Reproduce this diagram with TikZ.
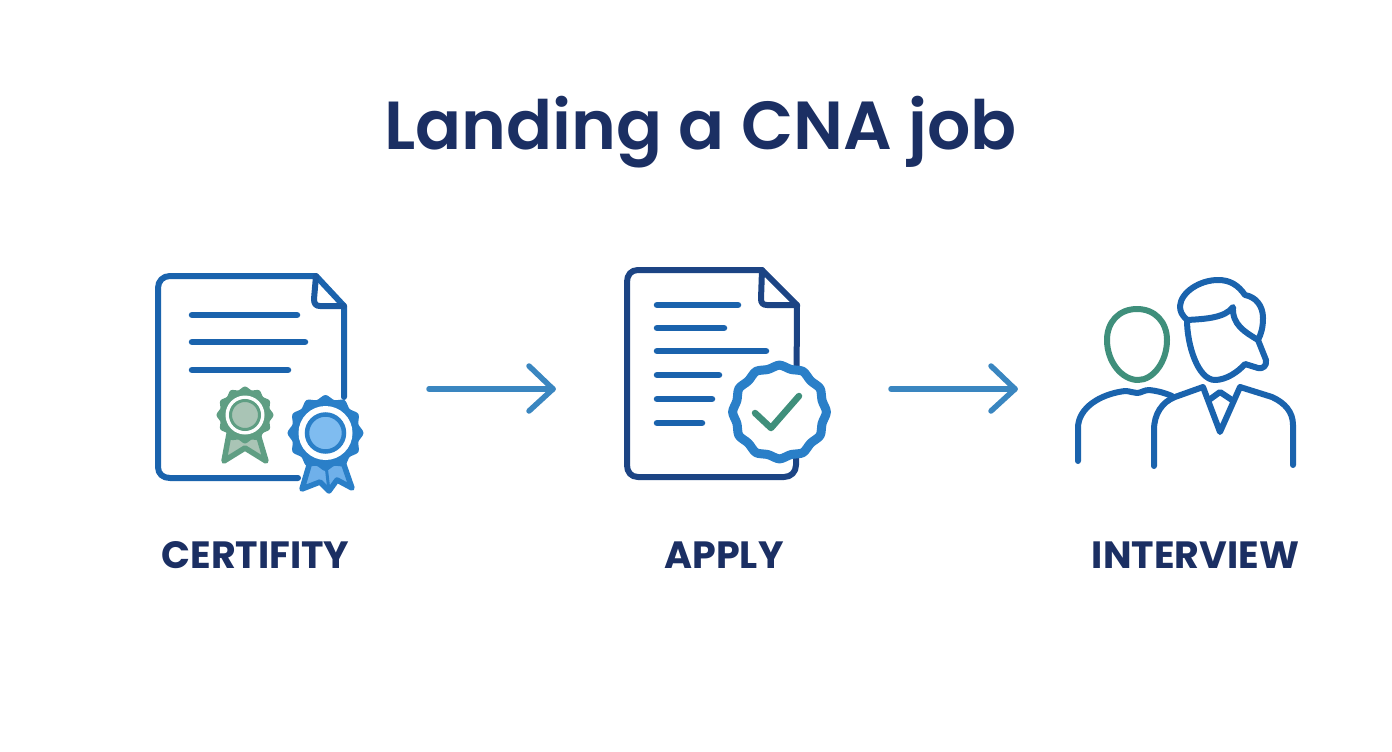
\documentclass[tikz,border=0pt]{standalone}
\usepackage{fontspec}
\setmainfont[BoldFont={Poppins SemiBold}]{Poppins}
\newfontface\labelface{Poppins Bold}
\definecolor{navy}{HTML}{1B2F63}
\definecolor{docblue}{HTML}{1A63AD}
\definecolor{docdark}{HTML}{1C4484}
\definecolor{midblue}{HTML}{2A7FC8}
\definecolor{arrowblue}{HTML}{3A86C0}
\definecolor{lightblue}{HTML}{7FBCF0}
\definecolor{ribbonblue}{HTML}{6FB0EA}
\definecolor{sage}{HTML}{5F9E83}
\definecolor{sagefill}{HTML}{A9C4B5}
\definecolor{teal}{HTML}{3F8F7B}
\tikzset{
  stroke/.style={line cap=round,line join=round,line width=#1},
  txtline/.style={stroke=6.5pt,docblue},
  flowarrow/.style={stroke=5.5pt,arrowblue},
  titletext/.style={font=\fontsize{68}{78}\selectfont\bfseries,text=navy,inner sep=0pt,anchor=base},
  steptext/.style={font=\labelface\fontsize{38}{44}\selectfont,text=navy,inner sep=0pt,anchor=base},
}
\begin{document}
\begin{tikzpicture}[x=1pt,y=-1pt]
\useasboundingbox (0,0) rectangle (1392,752);
\fill[white] (0,0) rectangle (1392,752);

\node[titletext] (title) at (700.5,149) {Landing a CNA job};
\node[steptext] (certify) at (255.5,568) {CERTIFITY};
\node[steptext] (apply) at (724,568) {APPLY};
\node[steptext] (interview) at (1195.5,568) {INTERVIEW};

% certificate
\draw[stroke=6pt,docblue] (344,397) -- (344,306) -- (316,276) -- (170,276)
  .. controls (163,276) and (158,281) .. (158,288) -- (158,467)
  .. controls (158,474) and (163,478) .. (170,478) -- (298,478);
\draw[stroke=6pt,docblue!70!docdark] (316,276) -- (314,299) .. controls (314,304) and (316,306) .. (320,306) -- (344,306);
\draw[txtline] (192,315) -- (297,315);
\draw[txtline] (192,342) -- (305,342);
\draw[txtline] (192,370) -- (288,370);

% green rosette
\draw[stroke=5.5pt,sage,fill=sagefill] (229,434) -- (224,461) -- (245,448) -- (266,461) -- (258,434) -- cycle;
\fill[sage,draw=sage,stroke=2pt] plot[smooth cycle,domain=0:345,samples=24] ({245+(26+1.5*cos(12*\x))*cos(\x)},{415+(26+1.5*cos(12*\x))*sin(\x)});
\fill[white] (245,415) circle (19.5);
\draw[sage,line width=3pt,fill=sagefill] (245,415) circle (14.5);

% blue rosette
\draw[stroke=5.5pt,midblue,fill=ribbonblue] (310,462) -- (302,489) -- (320,482) -- (329,491) -- (337,480) -- (352,488) -- (343,462) -- cycle;
\draw[stroke=3pt,midblue] (326,465) -- (329,491);
\fill[midblue,draw=midblue,stroke=2pt] plot[smooth cycle,domain=0:345,samples=24] ({325.5+(35+2*cos(12*\x))*cos(\x)},{433+(35+2*cos(12*\x))*sin(\x)});
\fill[white] (325.5,433) circle (27);
\draw[midblue,line width=4.5pt,fill=lightblue] (325.5,433) circle (18.5);

% application document
\draw[stroke=6pt,docdark] (762,270) -- (797,305) -- (796,465)
  .. controls (796,472) and (791,477) .. (784,477) -- (638,477)
  .. controls (631,477) and (627,472) .. (627,465) -- (627,282)
  .. controls (627,275) and (631,270) .. (638,270) -- cycle;
\draw[stroke=6pt,docdark] (762,270) -- (761,299) .. controls (761,303) and (763,305) .. (767,305) -- (797,305);
\draw[txtline] (657,305) -- (738,305);
\draw[txtline] (657,328) -- (724,328);
\draw[txtline] (657,351) -- (766,351);
\draw[txtline] (657,375) -- (719,375);
\draw[txtline] (657,399) -- (712,399);
\draw[txtline] (657,423) -- (702,423);
\draw[stroke=9pt,midblue,fill=white] plot[smooth cycle,domain=0:345,samples=24] ({779.5+(45.5+1.4*cos(12*\x))*cos(\x)},{412+(45.5+1.4*cos(12*\x))*sin(\x)});
\draw[stroke=6.5pt,teal] (755,413) -- (771,428) -- (799,396);

% arrows
\coordinate (a1s) at (429,389); \coordinate (a1e) at (553,389);
\coordinate (a2s) at (891,389); \coordinate (a2e) at (1015,389);
\draw[flowarrow] (a1s) -- (a1e);
\draw[flowarrow] (529,366) -- (a1e) -- (529,411);
\draw[flowarrow] (a2s) -- (a2e);
\draw[flowarrow] (991,366) -- (a2e) -- (991,411);

% people
\draw[stroke=6pt,teal] (1137,309) .. controls (1155,309) and (1167,322) .. (1167,340)
  .. controls (1167,362) and (1153,380) .. (1138,380)
  .. controls (1122,380) and (1107,362) .. (1107,340)
  .. controls (1107,322) and (1119,309) .. (1137,309) -- cycle;
\draw[stroke=6pt,docblue] (1078,461) -- (1078,428)
  .. controls (1078,408) and (1100,394) .. (1125,391)
  .. controls (1130,391) and (1133,393) .. (1137,393)
  .. controls (1141,393) and (1144,390) .. (1149,390)
  .. controls (1158,391) and (1165,393) .. (1172,396);
\draw[stroke=6pt,docblue] (1154,466) -- (1154,430)
  .. controls (1154,414) and (1162,402) .. (1175,397)
  -- (1203,387) -- (1220,432) -- (1240,387) -- (1272,397)
  .. controls (1285,403) and (1293,412) .. (1293,425) -- (1293,465);
\draw[stroke=6pt,docblue] (1209,400) -- (1220,392) -- (1232,400);
\draw[stroke=6pt,docblue] (1187,320) .. controls (1182,315) and (1180,312) .. (1180,306)
  .. controls (1181,292) and (1200,280) .. (1218,280)
  .. controls (1230,280) and (1238,285) .. (1245,295)
  .. controls (1256,297) and (1263,306) .. (1263,318)
  .. controls (1263,328) and (1261,334) .. (1258,340)
  -- (1266,360) .. controls (1267,366) and (1263,369) .. (1258,368)
  -- (1245,364) .. controls (1238,372) and (1226,380) .. (1215,380)
  .. controls (1198,380) and (1187,345) .. (1187,320) -- cycle;
\draw[stroke=6pt,docblue] (1187,320) .. controls (1205,319) and (1225,318) .. (1233,307)
  .. controls (1232,325) and (1245,332) .. (1258,340);
\end{tikzpicture}
\end{document}
